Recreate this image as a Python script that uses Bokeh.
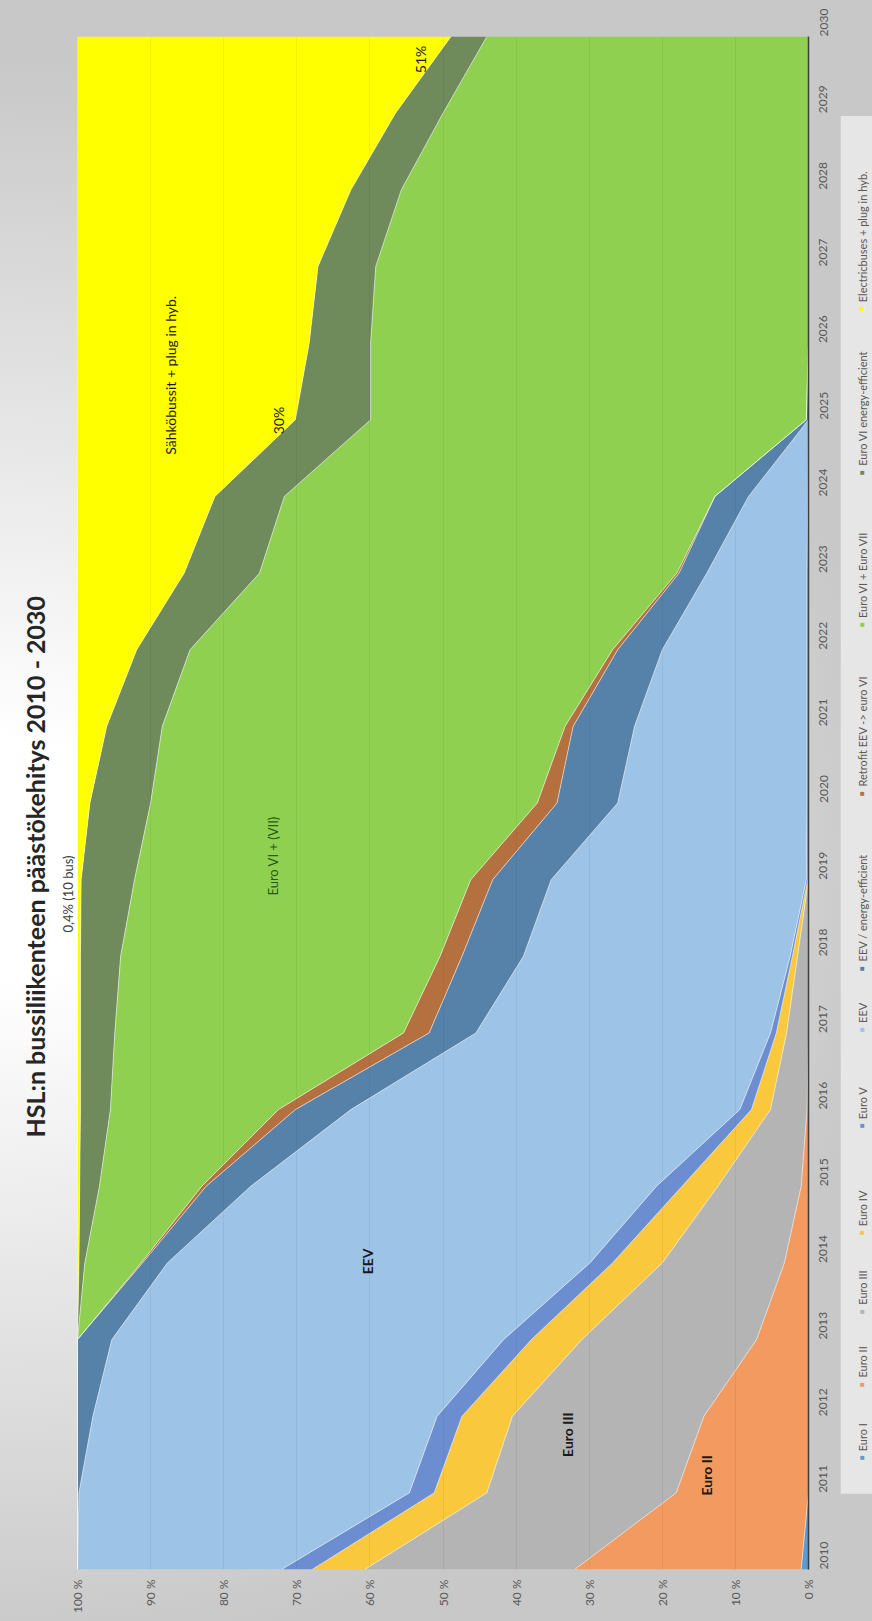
import math
from bokeh.plotting import figure
from bokeh.layouts import row
from bokeh.models import ColumnDataSource, Range1d, FixedTicker, Label, Title, BoxAnnotation
from bokeh.embed import file_html
from bokeh.resources import INLINE

# ---------------- data (percent share of the bus fleet) ----------------
years = [2010, 2011, 2012, 2013, 2014, 2015, 2016, 2017, 2018, 2019, 2020,
         2021, 2022, 2023, 2024, 2025, 2026, 2027, 2028, 2029, 2030]

euro_i     = [1.0, 0, 0, 0, 0, 0, 0, 0, 0, 0, 0, 0, 0, 0, 0, 0, 0, 0, 0, 0, 0]
euro_ii    = [31.0, 18.1, 14.3, 7.1, 3.3, 1.0, 0.2, 0, 0, 0, 0, 0, 0, 0, 0, 0, 0, 0, 0, 0, 0]
euro_iii   = [28.7, 25.9, 26.2, 23.9, 16.7, 11.4, 5.0, 3.0, 1.5, 0, 0, 0, 0, 0, 0, 0, 0, 0, 0, 0, 0]
euro_iv    = [7.2, 7.2, 6.9, 6.9, 6.8, 4.9, 2.6, 1.4, 0.7, 0.1, 0, 0, 0, 0, 0, 0, 0, 0, 0, 0, 0]
euro_v     = [4.2, 3.4, 3.4, 3.8, 3.1, 3.5, 1.6, 0.8, 0.3, 0.2, 0.2, 0.2, 0.2, 0.2, 0.1, 0, 0, 0, 0, 0, 0]
eev        = [27.9, 45.2, 47.1, 53.6, 57.8, 55.5, 53.2, 40.3, 36.5, 34.9, 25.9, 23.6, 19.8, 13.7, 8.1, 0, 0, 0, 0, 0, 0]
eev_ee     = [0, 0.2, 2.1, 4.7, 3.4, 6.1, 7.6, 6.4, 8.4, 8.0, 8.3, 8.4, 6.1, 3.8, 4.6, 0.3, 0, 0, 0, 0, 0]
retrofit   = [0, 0, 0, 0, 0.2, 0.6, 2.3, 3.5, 3.0, 3.0, 2.7, 1.1, 0.7, 0.3, 0, 0, 0, 0, 0, 0, 0]
euro_vi    = [0, 0, 0, 0, 7.7, 14.0, 23.0, 39.5, 43.7, 46.0, 52.9, 55.1, 57.8, 57.1, 58.9, 59.6, 59.9, 59.2, 55.7, 50.0, 44.0]
euro_vi_ee = [0, 0, 0, 0, 0.8, 2.7, 4.1, 4.7, 5.5, 7.3, 8.3, 7.6, 7.3, 10.3, 9.5, 10.3, 8.4, 7.9, 6.9, 6.5, 4.9]
electric   = [0, 0, 0, 0, 0.2, 0.3, 0.4, 0.4, 0.4, 0.5, 1.7, 4.0, 8.1, 14.6, 18.8, 29.8, 31.7, 32.9, 37.4, 43.5, 51.1]

series_keys = ["euro_i", "euro_ii", "euro_iii", "euro_iv", "euro_v", "eev", "eev_ee",
               "retrofit", "euro_vi", "euro_vi_ee", "electric"]
series_names = ["Euro I", "Euro II", "Euro III", "Euro IV", "Euro V", "EEV",
                "EEV / energy-efficient", "Retrofit EEV  -> euro VI", "Euro VI + Euro VII",
                "Euro VI energy-efficient", "Electricbuses + plug in hyb."]
colors = ["#5b9bd5", "#f29a5f", "#b4b4b4", "#fac83c", "#6c8ed0", "#9dc3e6", "#5682a9",
          "#b5703f", "#90d050", "#6f8a5b", "#ffff00"]

pct_ticks = [0, 10, 20, 30, 40, 50, 60, 70, 80, 90, 100]
pct_labels = ["0 %", "10 %", "20 %", "30 %", "40 %", "50 %", "60 %", "70 %", "80 %", "90 %", "100 %"]

title_text = "HSL:n bussiliikenteen päästökehitys 2010 - 2030"

source = ColumnDataSource(data=dict(
    year=years, euro_i=euro_i, euro_ii=euro_ii, euro_iii=euro_iii, euro_iv=euro_iv,
    euro_v=euro_v, eev=eev, eev_ee=eev_ee, retrofit=retrofit, euro_vi=euro_vi,
    euro_vi_ee=euro_vi_ee, electric=electric))

FONT = "Lato"
LABEL_GRAY = "#595959"

# ---------------- main chart ----------------
p = figure(width=840, height=1621, output_backend="svg", toolbar_location=None,
           x_range=Range1d(100, 0), y_range=Range1d(2010, 2030),
           y_axis_location="right",
           min_border_left=77, min_border_right=32, min_border_top=36, min_border_bottom=52)
p.border_fill_color = None
p.background_fill_color = None
p.outline_line_color = None

# stacked areas (stacked along the percent axis)
p.harea_stack(series_keys, y="year", color=colors, source=source)
p.hline_stack(series_keys, y="year", line_color="white", line_alpha=0.55, line_width=1, source=source)

# grid
p.ygrid.grid_line_color = None
p.xgrid.ticker = FixedTicker(ticks=pct_ticks)
p.xgrid.grid_line_color = "#000000"
p.xgrid.grid_line_alpha = 0.05
p.xgrid.level = "overlay"

# percent axis (bottom)
p.xaxis.ticker = FixedTicker(ticks=pct_ticks)
p.xaxis.major_label_overrides = dict(zip(pct_ticks, pct_labels))
p.xaxis.major_label_orientation = math.pi / 2
p.xaxis.axis_line_color = None
p.xaxis.major_tick_line_color = None
p.xaxis.minor_tick_line_color = None
p.xaxis.major_tick_out = 0
p.xaxis.major_tick_in = 0
p.xaxis.minor_tick_out = 0
p.xaxis.major_label_standoff = 10
p.xaxis.major_label_text_font = FONT
p.xaxis.major_label_text_font_size = "12px"
p.xaxis.major_label_text_color = LABEL_GRAY

# year axis (right)
p.yaxis.ticker = FixedTicker(ticks=years)
p.yaxis.major_label_orientation = math.pi / 2
p.yaxis.axis_line_color = "#3f3f3f"
p.yaxis.axis_line_width = 1.5
p.yaxis.major_tick_line_color = None
p.yaxis.minor_tick_line_color = None
p.yaxis.major_tick_out = 0
p.yaxis.major_tick_in = 0
p.yaxis.minor_tick_out = 0
p.yaxis.major_label_standoff = 15
p.yaxis.major_label_text_font = FONT
p.yaxis.major_label_text_font_size = "12px"
p.yaxis.major_label_text_color = LABEL_GRAY

# side texts (left panel: first = nearest the frame)
p.add_layout(Title(text="0,4% (10 bus)", align="left", offset=637, vertical_align="middle",
                   standoff=2, text_font=FONT, text_font_size="13px",
                   text_font_style="normal", text_color="#404040"), "left")
p.add_layout(Title(text=title_text, align="left", offset=432, vertical_align="middle",
                   standoff=14, text_font=FONT, text_font_size="25px",
                   text_font_style="bold", text_color="#262626"), "left")

# in-chart annotations
def ann(x, y, text, size="13px", style="normal", color="#1a1a1a"):
    p.add_layout(Label(x=x, y=y, text=text, angle=math.pi / 2, text_align="center",
                       text_baseline="middle", text_font=FONT, text_font_size=size,
                       text_font_style=style, text_color=color))

ann(14.0, 2011.23, "Euro II", size="14px", style="bold")
ann(33.0, 2011.76, "Euro III", size="14px", style="bold")
ann(60.3, 2014.02, "EEV", size="14px", style="bold")
ann(73.3, 2019.31, "Euro VI + (VII)", color="#285a14")
ann(87.3, 2025.58, "Sähköbussit + plug in hyb.", size="14px")
ann(72.5, 2024.99, "30%", size="14px")
ann(53.1, 2029.70, "51%", size="14px")

# ---------------- legend strip (rotated entries) ----------------
lg = figure(width=32, height=1621, output_backend="svg", toolbar_location=None,
            x_range=Range1d(0, 32), y_range=Range1d(0, 1621),
            x_axis_type=None, y_axis_type=None, min_border=0)
lg.border_fill_color = None
lg.background_fill_color = None
lg.outline_line_color = None
lg.add_layout(BoxAnnotation(left=0, right=32, bottom=80, top=1537,
                            fill_color="#e6e6e6", fill_alpha=1.0, line_color=None,
                            level="underlay"))
legend_marker_y = [1503, 1425, 1348, 1265, 1152, 1050, 985, 800, 622, 461, 288]
for name, col, py in zip(series_names, colors, legend_marker_y):
    yy = 1621 - py
    lg.add_layout(Label(x=22, y=yy, text="■", text_align="center", text_baseline="middle",
                        text_font_size="8px", text_color=col))
    lg.add_layout(Label(x=22, y=yy + 7, text=name, angle=math.pi / 2, text_align="left",
                        text_baseline="middle", text_font=FONT, text_font_size="11px",
                        text_color=LABEL_GRAY))

layout = row(p, lg, styles={"background":
             "radial-gradient(900px 800px at 0% 53%, #ffffff 0%, #ffffff 15%, #c8c8c8 100%)"})

open("out.html", "w").write(file_html(layout, INLINE))
